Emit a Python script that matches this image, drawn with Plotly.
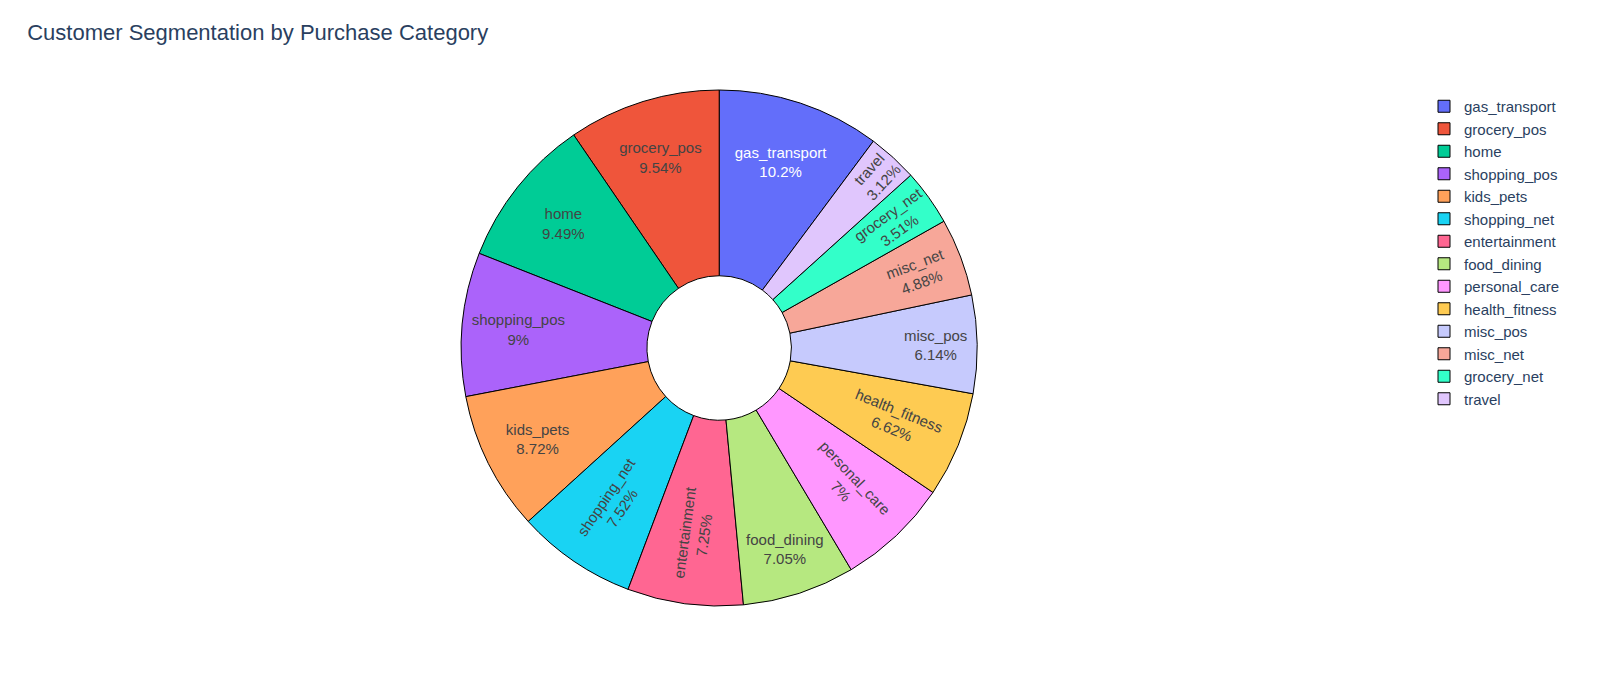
import plotly.graph_objects as go

categories = ["gas_transport", "grocery_pos", "home", "shopping_pos", "kids_pets",
              "shopping_net", "entertainment", "food_dining", "personal_care",
              "health_fitness", "misc_pos", "misc_net", "grocery_net", "travel"]
shares = [10.2, 9.54, 9.49, 9.0, 8.72, 7.52, 7.25, 7.05, 7.0, 6.62, 6.14, 4.88, 3.51, 3.12]

fig = go.Figure(go.Pie(
    labels=categories,
    values=shares,
    hole=0.28,
    textinfo="label+percent",
    marker=dict(line=dict(color="black", width=1)),
    domain=dict(x=[0, 0.889], y=[0, 1]),
))

fig.update_layout(
    title=dict(text="Customer Segmentation by Purchase Category", x=0.012, y=0.975,
               font=dict(size=22)),
    width=1600, height=676,
    margin=dict(t=82, l=0, r=0, b=78),
    font=dict(family="Arial, Liberation Sans, sans-serif", size=15),
    legend=dict(font=dict(size=15), x=0.885, y=1.0, xanchor="left", yanchor="top"),
)

fig.write_html("out.html")
